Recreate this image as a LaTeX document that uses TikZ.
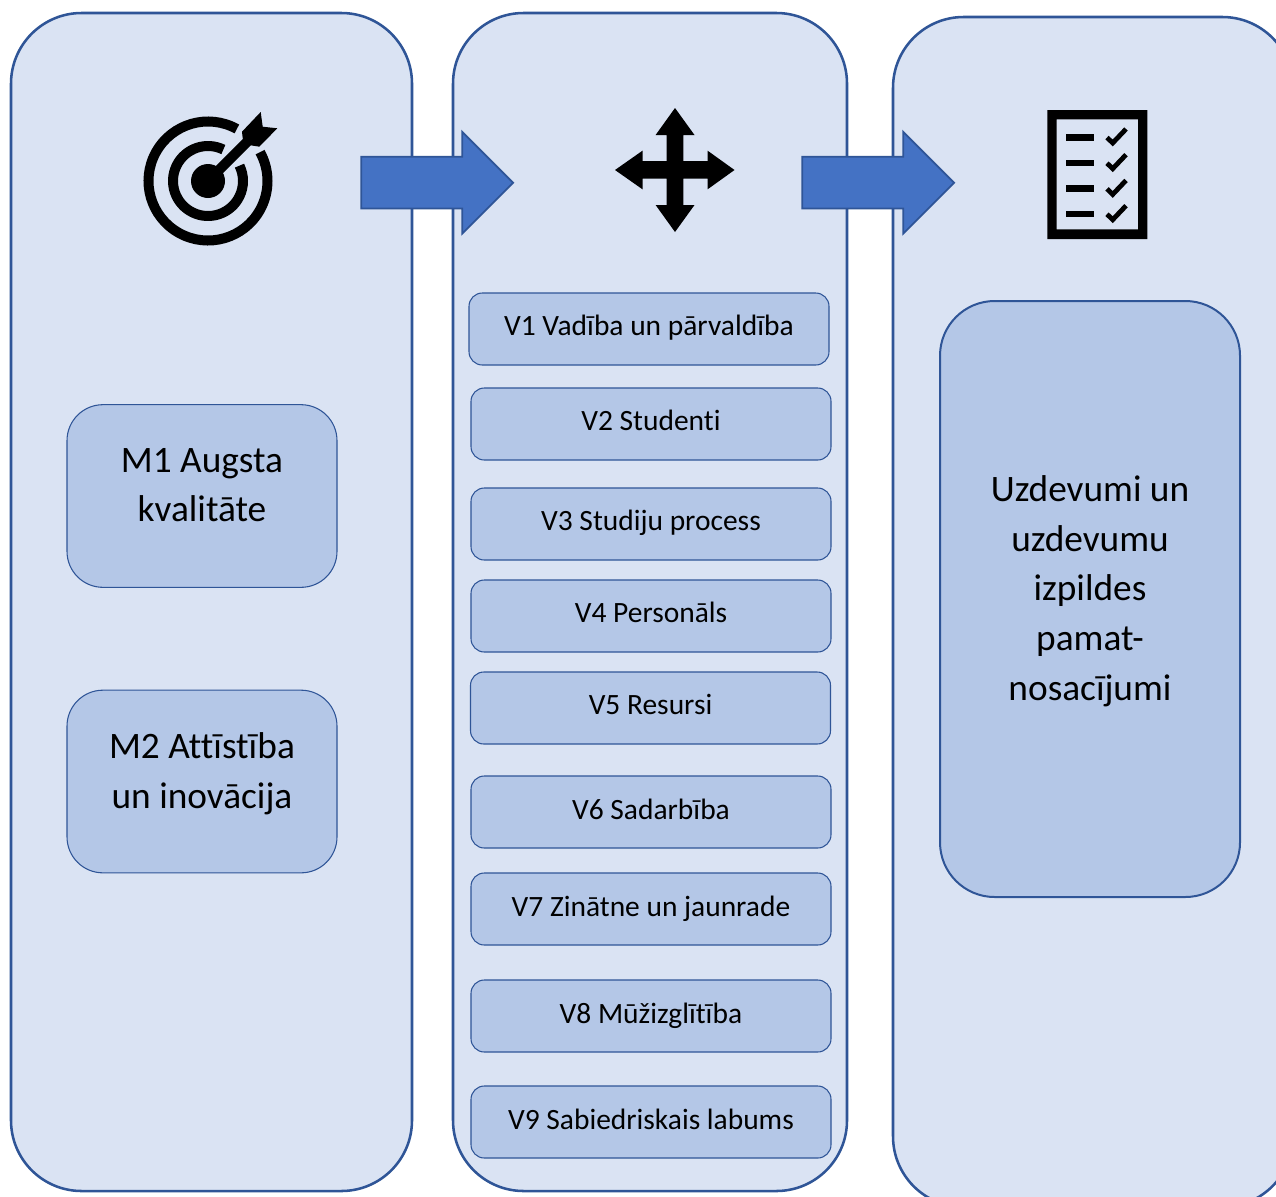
\documentclass[tikz,border=0pt]{standalone}
\usepackage{fontspec}
\setmainfont[Ligatures=NoCommon]{Carlito}
\usetikzlibrary{shapes.arrows}
\definecolor{panelfill}{HTML}{DAE3F3}
\definecolor{boxfill}{HTML}{B4C7E7}
\definecolor{edge}{HTML}{2F5597}
\definecolor{arrowfill}{HTML}{4472C4}
\tikzset{
  panel/.style={draw=edge,fill=panelfill,line width=1.9pt,rounded corners=53pt,inner sep=0pt},
  vbox/.style={draw=edge,fill=boxfill,line width=.8pt,rounded corners=10pt,minimum width=270pt,minimum height=54pt,inner sep=0pt,
     font=\fontsize{22.1}{26}\selectfont,text height=14pt,text depth=5pt},
  vlow/.style={vbox,text depth=3.5pt},
  mbox/.style={draw=edge,fill=boxfill,line width=.8pt,rounded corners=27pt,minimum width=202.5pt,minimum height=137pt,inner sep=0pt,align=center,
     font=\fontsize{28}{37}\selectfont},
  tbox/.style={draw=edge,fill=boxfill,line width=1.5pt,rounded corners=41pt,minimum width=225pt,minimum height=447pt,inner sep=0pt,align=center,
     font=\fontsize{28}{37.2}\selectfont},
  blockarrow/.style={single arrow,draw=edge,fill=arrowfill,line width=1.3pt,minimum height=114pt,minimum width=74.5pt,
     single arrow head extend=18.75pt,single arrow head indent=0pt,inner sep=0pt,text height=37.5pt,text depth=0pt,text width=0pt},
  ring/.style={draw=black,line width=7.5pt,line cap=butt},
  tick/.style={draw=black,line width=3.6pt,line cap=butt,line join=miter}
}
\begin{document}
\begin{tikzpicture}[x=.75pt,y=-.75pt]
\useasboundingbox (0,0) rectangle (1276,1196);
\clip (0,0) rectangle (1276,1196);
\fill[white] (0,0) rectangle (1276,1196);
% panels
\node[panel,minimum width=300.75pt,minimum height=883.5pt] (left) at (211.5,602) {};
\node[panel,minimum width=295.5pt,minimum height=883.5pt] (mid) at (650,602) {};
\node[panel,minimum width=300pt,minimum height=892.5pt] (right) at (1093,612) {};
% left boxes
\node[mbox,text depth=16.5pt] (m1) at (202,496) {M1 Augsta\\kvalitāte};
\node[mbox,text depth=16.5pt] (m2) at (202,781.5) {M2 Attīstība\\un inovācija};
% centre boxes
\node[vbox] (v1) at (649,329) {V1 Vadība un pārvaldība};
\node[vbox] (v2) at (651,424) {V2 Studenti};
\node[vbox] (v3) at (651,524) {V3 Studiju process};
\node[vbox] (v4) at (651,616) {V4 Personāls};
\node[vbox] (v5) at (650.5,708) {V5 Resursi};
\node[vlow] (v6) at (651,812) {V6 Sadarbība};
\node[vlow] (v7) at (651,909) {V7 Zinātne un jaunrade};
\node[vlow] (v8) at (651,1016) {V8 Mūžizglītība};
\node[vlow] (v9) at (651,1122) {V9 Sabiedriskais labums};
% right box
\node[tbox,text depth=16.5pt] (t) at (1090,599) {Uzdevumi un\\uzdevumu\\izpildes\\pamat-\\nosacījumi};
% block arrows
\node[blockarrow] (a1) at (424.2,182.7) {};
\node[blockarrow] (a2) at (865.2,182.7) {};
% target icon
\coordinate (tc) at (208,181);
\fill (tc) circle[radius=17];
\draw[ring] (tc) ++(-61:59.5) arc[start angle=-61,end angle=-389,radius=59.5];
\draw[ring] (tc) ++(-64:35) arc[start angle=-64,end angle=-386,radius=35];
\draw[black,line width=7.5pt] (tc) -- (250,139);
\fill (260.7,112) -- (262.7,126.7) -- (277.3,128.3) -- (259.3,146.7) -- (250.7,145.3) -- (242.7,138.3) -- (242,131.7) -- cycle;
% move icon
\fill (675,108) -- (694.5,135) -- (683.3,135) -- (683.3,161) -- (707.6,161) -- (707.6,150.7) -- (734.5,170) -- (707.6,189.3) -- (707.6,178.7)
  -- (683.3,178.7) -- (683.3,205) -- (694.5,205) -- (675,232) -- (655.6,205) -- (666.5,205) -- (666.5,178.7) -- (642.5,178.7) -- (642.5,189.3)
  -- (615,170) -- (642.5,150.7) -- (642.5,161) -- (666.5,161) -- (666.5,135) -- (655.6,135) -- cycle;
% checklist icon
\fill[even odd rule] (1047.3,110) rectangle (1147.3,239) (1056.7,119.3) rectangle (1138,229.3);
\foreach \d in {0,25.7,51.4,76.7}{
  \fill (1066,134+\d) rectangle (1094,140.7+\d);
  \draw[tick] (1107,137.5+\d) -- (1112.7,143+\d) -- (1126,129+\d);
}
\end{tikzpicture}
\end{document}
